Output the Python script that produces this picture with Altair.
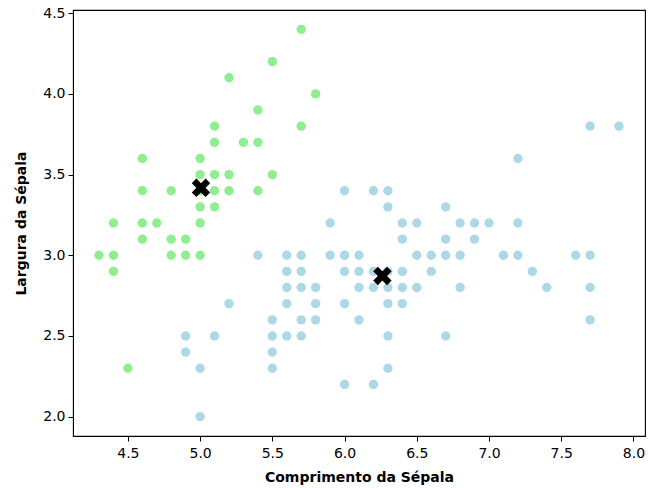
import altair as alt
import pandas as pd

# Cluster 0 (light green)
green_x = [4.3, 4.4, 4.4, 4.4, 4.5, 4.6, 4.6, 4.6, 4.6, 4.7, 4.8, 4.8, 4.8, 4.9, 4.9,
           5.0, 5.0, 5.0, 5.0, 5.0, 5.0, 5.1, 5.1, 5.1, 5.1, 5.1, 5.2, 5.2, 5.2, 5.3,
           5.4, 5.4, 5.4, 5.5, 5.5, 5.7, 5.7, 5.8]
green_y = [3.0, 2.9, 3.0, 3.2, 2.3, 3.1, 3.2, 3.4, 3.6, 3.2, 3.0, 3.1, 3.4, 3.0, 3.1,
           3.0, 3.2, 3.3, 3.4, 3.5, 3.6, 3.3, 3.4, 3.5, 3.7, 3.8, 3.4, 3.5, 4.1, 3.7,
           3.4, 3.7, 3.9, 3.5, 4.2, 3.8, 4.4, 4.0]

# Cluster 1 (light blue)
blue_x = [4.9, 4.9, 5.0, 5.0, 5.1, 5.2, 5.4, 5.5, 5.5, 5.5, 5.5, 5.6, 5.6, 5.6, 5.6, 5.6,
          5.7, 5.7, 5.7, 5.7, 5.7, 5.8, 5.8, 5.8, 5.9, 5.9, 6.0, 6.0, 6.0, 6.0, 6.0,
          6.1, 6.1, 6.1, 6.1, 6.2, 6.2, 6.2, 6.2, 6.3, 6.3, 6.3, 6.3, 6.3, 6.3, 6.3,
          6.4, 6.4, 6.4, 6.4, 6.4, 6.5, 6.5, 6.5, 6.6, 6.6, 6.7, 6.7, 6.7, 6.7,
          6.8, 6.8, 6.8, 6.9, 6.9, 7.0, 7.1, 7.2, 7.2, 7.2, 7.3, 7.4, 7.6,
          7.7, 7.7, 7.7, 7.7, 7.9]
blue_y = [2.4, 2.5, 2.0, 2.3, 2.5, 2.7, 3.0, 2.3, 2.4, 2.5, 2.6, 2.5, 2.7, 2.8, 2.9, 3.0,
          2.5, 2.6, 2.8, 2.9, 3.0, 2.6, 2.7, 2.8, 3.0, 3.2, 2.2, 2.7, 2.9, 3.0, 3.4,
          2.6, 2.8, 2.9, 3.0, 2.2, 2.8, 2.9, 3.4, 2.3, 2.5, 2.7, 2.8, 2.9, 3.3, 3.4,
          2.7, 2.8, 2.9, 3.1, 3.2, 2.8, 3.0, 3.2, 2.9, 3.0, 2.5, 3.0, 3.1, 3.3,
          2.8, 3.0, 3.2, 3.1, 3.2, 3.2, 3.0, 3.0, 3.2, 3.6, 2.9, 2.8, 3.0,
          2.6, 2.8, 3.0, 3.8, 3.8]

# Centroids
cent_x = [5.006, 6.262]
cent_y = [3.418, 2.872]

x_ticks = [4.5, 5.0, 5.5, 6.0, 6.5, 7.0, 7.5, 8.0]
y_ticks = [2.0, 2.5, 3.0, 3.5, 4.0, 4.5]

pts = pd.DataFrame({
    "x": green_x + blue_x,
    "y": green_y + blue_y,
    "c": ["g"] * len(green_x) + ["b"] * len(blue_x),
})
cent = pd.DataFrame({"x": cent_x, "y": cent_y})

font = "DejaVu Sans"
xs = alt.Scale(domain=[4.12, 8.08], nice=False, zero=False)
ys = alt.Scale(domain=[1.88, 4.52], nice=False, zero=False)

xax = alt.Axis(values=x_ticks, format=".1f", title="Comprimento da Sépala",
               grid=False, domainColor="black", tickColor="black", tickSize=5,
               labelFont=font, labelFontSize=14, labelColor="black", labelPadding=5,
               titleFont=font, titleFontSize=14, titleFontWeight="bold",
               titleColor="black", titlePadding=10)
yax = alt.Axis(values=y_ticks, format=".1f", title="Largura da Sépala",
               grid=False, domainColor="black", tickColor="black", tickSize=5,
               labelFont=font, labelFontSize=14, labelColor="black", labelPadding=3,
               titleFont=font, titleFontSize=14, titleFontWeight="bold",
               titleColor="black", titlePadding=14)

points = alt.Chart(pts).mark_circle(size=88, opacity=1).encode(
    x=alt.X("x:Q", scale=xs, axis=xax),
    y=alt.Y("y:Q", scale=ys, axis=yax),
    color=alt.Color("c:N", scale=alt.Scale(domain=["g", "b"],
                                           range=["#90EE90", "#ADD8E6"]),
                    legend=None),
)

xpath = ("M -0.5 -1 L 0 -0.5 L 0.5 -1 L 1 -0.5 L 0.5 0 L 1 0.5 L 0.5 1 "
         "L 0 0.5 L -0.5 1 L -1 0.5 L -0.5 0 L -1 -0.5 Z")
cents = alt.Chart(cent).mark_point(shape=xpath, filled=True, color="black",
                                   size=340, opacity=1).encode(
    x=alt.X("x:Q", scale=xs),
    y=alt.Y("y:Q", scale=ys),
)

chart = alt.layer(points, cents).properties(
    width=572, height=426,
    autosize=alt.AutoSizeParams(type="none"),
    padding={"left": 73, "top": 10, "right": 3, "bottom": 52},
    background="white",
).configure_view(stroke="black", strokeWidth=1.1)

chart.save("out.html", embed_options={"renderer": "svg", "actions": False})
